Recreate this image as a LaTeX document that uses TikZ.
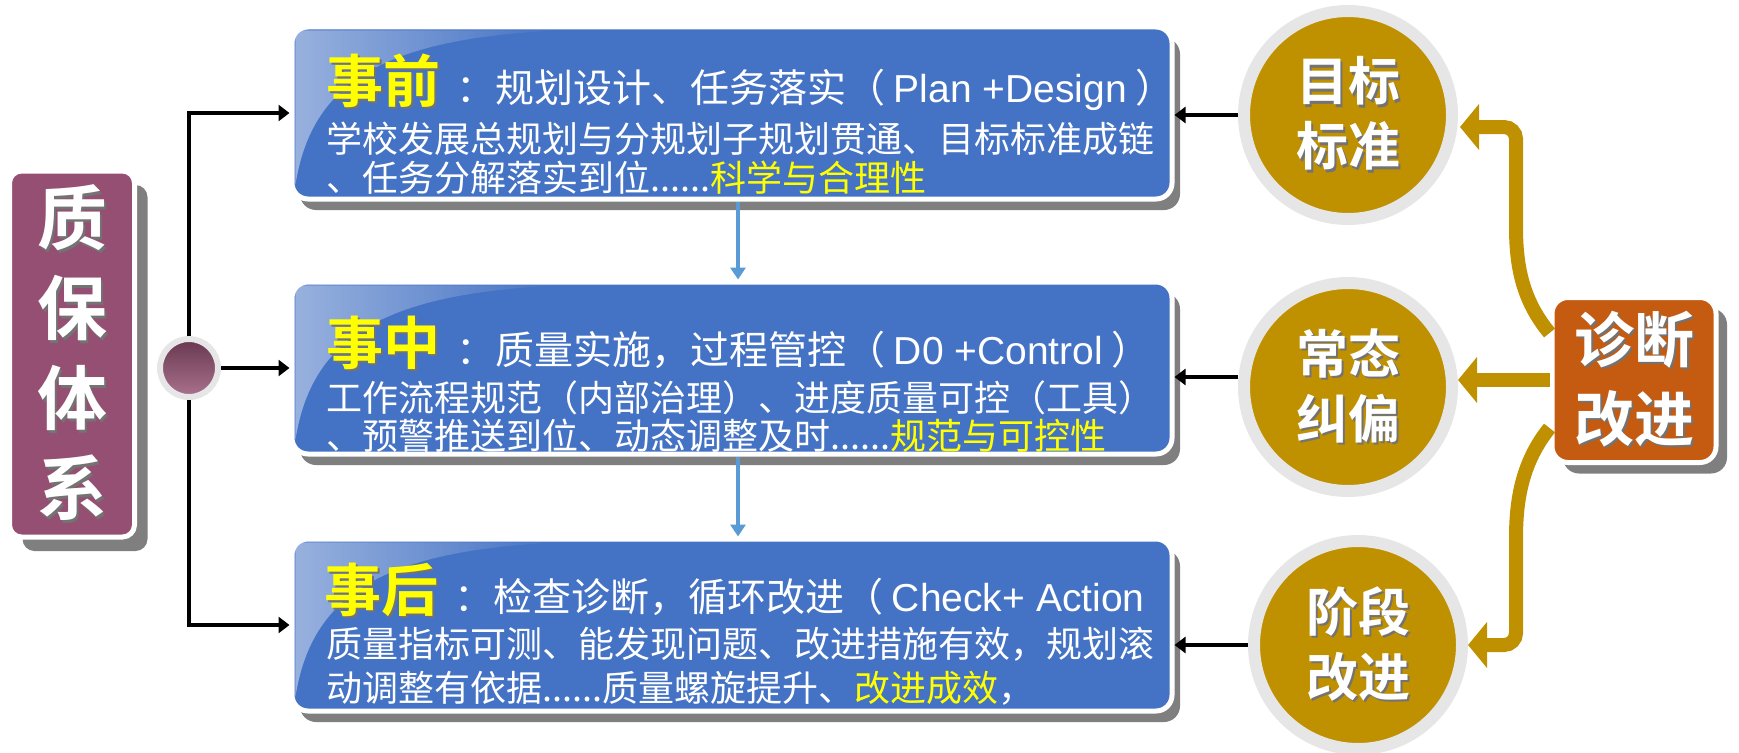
\documentclass[tikz,border=0pt]{standalone}
\usepackage{fontspec}
\setmainfont{Noto Sans CJK SC}[BoldFont={Noto Sans CJK SC Bold}]
\newfontfamily\lat{Liberation Sans}
\usetikzlibrary{arrows.meta,calc,shadows,fadings}

\definecolor{boxblue}{HTML}{4472C4}
\definecolor{qapurple}{HTML}{954F72}
\definecolor{goldc}{HTML}{BF9000}
\definecolor{ringgray}{HTML}{E7E6E6}
\definecolor{diagorange}{HTML}{C55A11}
\definecolor{shadegray}{HTML}{7F7F7F}
\definecolor{linkblue}{HTML}{5B9BD5}
\definecolor{hiyellow}{HTML}{FFFF00}

\newcommand\shtxt[1]{\makebox[0pt][l]{\hspace{2.5pt}\raisebox{-2.5pt}{\color{black!55}#1}}#1}
\newcommand\ttl[1]{{\fontsize{57}{62}\selectfont\bfseries\color{hiyellow}\shtxt{#1}}\hspace{16pt}}
\tikzfading[name=glossfade, left color=transparent!55, right color=transparent!100]

\tikzset{
  stagebox/.style={rectangle, rounded corners=16pt, fill=boxblue, draw=white, line width=5pt,
    minimum width=880pt, minimum height=172pt,
    drop shadow={shadow xshift=8pt, shadow yshift=-11pt, fill=shadegray, opacity=1}},
  txtline/.style={anchor=base west, inner sep=0pt, text=white, font=\fontsize{36}{40}\selectfont},
  headline/.style={txtline, font=\fontsize{39}{44}\selectfont},
  qabox/.style={rectangle, rounded corners=12pt, fill=qapurple, draw=white, line width=5pt,
    minimum width=125pt, minimum height=366pt, text=white, align=center,
    font=\fontsize{70}{90}\selectfont\bfseries,
    drop shadow={shadow xshift=13pt, shadow yshift=-14pt, fill=shadegray, opacity=1}},
  hubdot/.style={circle, draw=ringgray, line width=6pt, minimum size=58pt, inner sep=0pt,
    top color=qapurple!70!black, bottom color=qapurple!80!white},
  disc/.style={circle, fill=goldc, draw=ringgray, line width=12pt, minimum size=208pt,
    inner sep=0pt, text=white, align=center, font=\fontsize{52}{65}\selectfont\bfseries},
  diagbox/.style={rectangle, rounded corners=16pt, fill=diagorange, draw=white, line width=5pt,
    minimum width=164pt, minimum height=165pt, text=white, align=center,
    font=\fontsize{60}{79}\selectfont\bfseries,
    drop shadow={shadow xshift=11pt, shadow yshift=-11pt, fill=shadegray, opacity=1}},
  blkarrow/.style={draw=black, line width=4pt, -{Triangle[length=11pt,width=16pt]}},
  linkarrow/.style={draw=linkblue, line width=4pt, -{Triangle[length=12pt,width=15pt]}},
  goldarrow/.style={draw=goldc, line width=14pt, -{Triangle[length=19pt,width=45pt]}}
}

\begin{document}
\begin{tikzpicture}[x=1pt,y=-1pt]
\useasboundingbox (0,0) rectangle (1739,752);

\node[stagebox] (pre) at (732,113) {};
\node[stagebox] (mid) at (732,368) {};
\node[stagebox] (post) at (732,625) {};
\foreach \b in {pre,mid,post}{
  \begin{scope}
    \clip[rounded corners=13pt] ($(\b.north west)+(5,5)$) rectangle ($(\b.south east)+(-5,-5)$);
    \fill[white, path fading=glossfade, fit fading=true] ($(\b.north west)+(6,6)$) -- ($(\b.north west)+(270,6)$)
      .. controls ($(\b.north west)+(90,14)$) and ($(\b.north west)+(22,60)$) .. ($(\b.north west)+(6,160)$) -- cycle;
  \end{scope}
}

\node[headline] (pre1) at (326,102) {\ttl{事前}：规划设计、任务落实（ {\lat Plan +Design} ）};
\node[txtline] (pre2) at (326,152) {学校发展总规划与分规划子规划贯通、目标标准成链};
\node[txtline] (pre3) at (326,191) {、任务分解落实到位......{\color{hiyellow}科学与合理性}};

\node[headline] (mid1) at (326,364) {\ttl{事中}：质量实施，过程管控（ {\lat D0 +Control} ）};
\node[txtline] (mid2) at (326,411) {工作流程规范（内部治理）、进度质量可控（工具）};
\node[txtline] (mid3) at (326,449) {、预警推送到位、动态调整及时......{\color{hiyellow}规范与可控性}};

\node[headline] (post1) at (324,611) {\ttl{事后}：检查诊断，循环改进（ {\lat Check+ Action}};
\node[txtline] (post2) at (326,657) {质量指标可测、能发现问题、改进措施有效，规划滚};
\node[txtline] (post3) at (326,701) {动调整有依据......质量螺旋提升、{\color{hiyellow}改进成效}，};

\node[qabox] (qa) at (72,354) {\shtxt{质}\\\shtxt{保}\\\shtxt{体}\\\shtxt{系}};
\node[hubdot] (hub) at (189,368) {};
\draw[blkarrow] (hub.north) |- (pre.west);
\draw[blkarrow] (hub.east) -- (mid.west);
\draw[blkarrow] (hub.south) |- (post.west);
\draw[linkarrow] ([xshift=6pt]pre.south) -- ([xshift=6pt]mid.north);
\draw[linkarrow] ([xshift=6pt]mid.south) -- ([xshift=6pt]post.north);

\node[disc] (tgt) at (1348,115) {\shtxt{目标}\\\shtxt{标准}};
\node[disc] (rout) at (1348,387) {\shtxt{常态}\\\shtxt{纠偏}};
\node[disc] (stage) at (1358,645) {\shtxt{阶段}\\\shtxt{改进}};
\draw[blkarrow] (tgt.west) -- (tgt.west -| pre.east);
\draw[blkarrow] ([yshift=10pt]rout.west) -- ([yshift=10pt]rout.west -| mid.east);
\draw[blkarrow] (stage.west) -- (stage.west -| post.east);

\node[diagbox] (diag) at (1634,380) {\shtxt{诊断}\\\shtxt{改进}};
\coordinate (t1) at (1460,127);
\draw[goldarrow, rounded corners=12pt] ([yshift=47pt]diag.west) .. controls (1522,300) and (1516,265) .. (1516,215) -- (1516,127) -- (t1);
\draw[goldarrow] (diag.west) -- (diag.west -| rout.east);
\draw[goldarrow, rounded corners=12pt] ([yshift=-48pt]diag.west) .. controls (1522,462) and (1516,500) .. (1516,550) -- (1516,645) -- (stage.east);
\end{tikzpicture}
\end{document}
